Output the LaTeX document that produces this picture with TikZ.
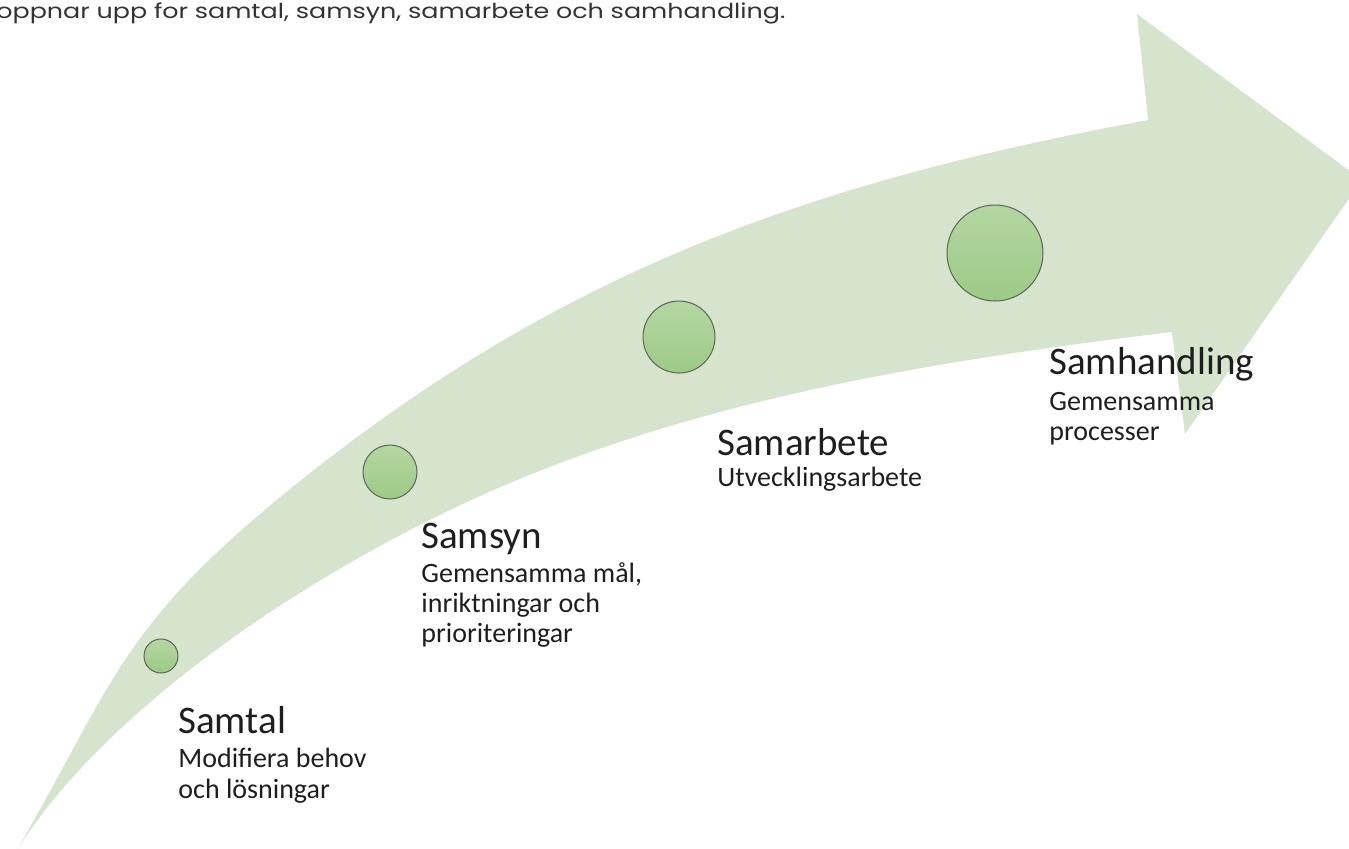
\documentclass[tikz,border=0pt]{standalone}
\usepackage{fontspec}
\usepackage{graphicx}
\setmainfont{Carlito}
\newfontfamily\topfont{Poppins}
\definecolor{bandgreen}{HTML}{D6E4CE}
\definecolor{dottop}{HTML}{B4D6A2}
\definecolor{dotbot}{HTML}{9CCA86}
\definecolor{dotedge}{HTML}{5B6657}
\definecolor{txt}{HTML}{1E1E1E}
\definecolor{toptxt}{HTML}{333333}
\tikzset{
  band/.style={fill=bandgreen},
  dot/.style={circle, inner sep=0pt, draw=dotedge, line width=0.5pt, top color=dottop, bottom color=dotbot},
  ttl/.style={anchor=base west, inner sep=0pt, text=txt, font=\fontsize{19.5pt}{23pt}\selectfont},
  sub/.style={anchor=base west, inner sep=0pt, text=txt, font=\fontsize{14pt}{16pt}\selectfont},
}
\begin{document}
\begin{tikzpicture}[x=0.5pt, y=-0.5pt]
\useasboundingbox (0,0) rectangle (1349,848);
% curved arrow
\fill[band] (17,850) .. controls (117,677) and (120,625) .. (300,481)
  .. controls (558,275) and (800,184) .. (1148,120)
  -- (1137,14) -- (1362,180) -- (1185,434) -- (1172,332)
  .. controls (924,362) and (675,402) .. (450,510)
  .. controls (270,597) and (97,723) .. (17,850) -- cycle;
% circles
\node[dot, minimum size=17pt] (c1) at (161,656) {};
\node[dot, minimum size=27pt] (c2) at (390,472) {};
\node[dot, minimum size=36pt] (c3) at (679,337) {};
\node[dot, minimum size=48pt] (c4) at (995,253) {};
% top text
\node[anchor=base west, inner sep=0pt, text=toptxt, font=\topfont\fontsize{10.3pt}{12pt}\selectfont] (top) at (-4,18.5) {\resizebox{394.5pt}{\height}{oppnar upp for samtal, samsyn, samarbete och samhandling.}};
% labels
\node[ttl] (t1) at (178,733) {Samtal};
\node[sub] (s1a) at (178,767) {Modifiera behov};
\node[sub] (s1b) at (178,798) {och lösningar};
\node[ttl] (t2) at (421,548) {Samsyn};
\node[sub] (s2a) at (421,582) {Gemensamma mål,};
\node[sub] (s2b) at (421,612) {inriktningar och};
\node[sub] (s2c) at (421,642) {prioriteringar};
\node[ttl] (t3) at (717,455) {Samarbete};
\node[sub] (s3a) at (717,486) {Utvecklingsarbete};
\node[ttl] (t4) at (1049,374) {Samhandling};
\node[sub] (s4a) at (1049,410) {Gemensamma};
\node[sub] (s4b) at (1049,440) {processer};
\end{tikzpicture}
\end{document}
